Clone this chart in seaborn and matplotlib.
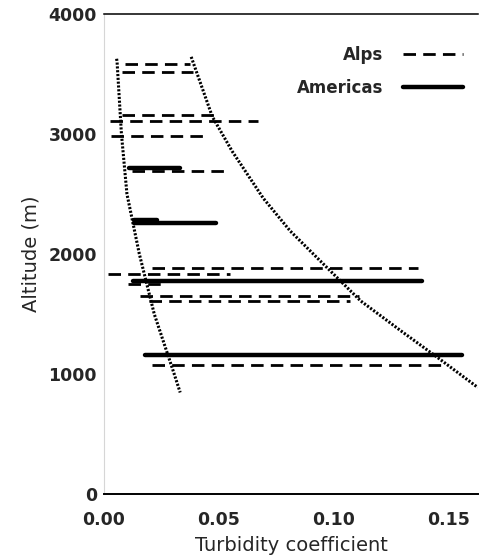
import numpy as np
import pandas as pd
import matplotlib
matplotlib.use("Agg")
import matplotlib.pyplot as plt
from matplotlib.ticker import MultipleLocator
import seaborn as sns

# ---- data ----
alps_alt = [3580, 3520, 3160, 3105, 2985, 2695, 1887, 1830, 1750, 1651, 1610, 1079]
alps_x0 = [0.009, 0.008, 0.008, 0.0026, 0.003, 0.012, 0.021, 0.0017, 0.0105, 0.0157, 0.0195, 0.021]
alps_x1 = [0.0376, 0.039, 0.0507, 0.067, 0.044, 0.054, 0.137, 0.055, 0.027, 0.111, 0.107, 0.150]

amer_alt = [2716, 2280, 2262, 1772, 1162]
amer_x0 = [0.011, 0.013, 0.013, 0.0127, 0.018]
amer_x1 = [0.033, 0.023, 0.049, 0.1387, 0.156]

left_curve_x = [0.0055, 0.0057, 0.0076, 0.0100, 0.0154, 0.0219, 0.0306, 0.0332]
left_curve_alt = [3627, 3600, 3000, 2500, 2000, 1500, 1000, 846]

right_curve_x = [0.0380, 0.0472, 0.0559, 0.0694, 0.0812, 0.0969, 0.1118, 0.1293, 0.1454, 0.1629]
right_curve_alt = [3643, 3145, 2855, 2465, 2191, 1892, 1610, 1361, 1137, 888]

regions = ["Alps", "Americas"]
xticks = [0.00, 0.05, 0.10, 0.15]
yticks = [0, 1000, 2000, 3000, 4000]

# ---- build long table of segments ----
rows = []
seg = 0
for alt, a, b in zip(alps_alt, alps_x0, alps_x1):
    rows += [dict(x=a, alt=alt, region="Alps", seg=seg), dict(x=b, alt=alt, region="Alps", seg=seg)]
    seg += 1
for alt, a, b in zip(amer_alt, amer_x0, amer_x1):
    rows += [dict(x=a, alt=alt, region="Americas", seg=seg), dict(x=b, alt=alt, region="Americas", seg=seg)]
    seg += 1
segs = pd.DataFrame(rows)

left_df = pd.DataFrame(dict(x=left_curve_x, alt=left_curve_alt))
right_df = pd.DataFrame(dict(x=right_curve_x, alt=right_curve_alt))

sns.set_style("white")
plt.rcParams["font.family"] = ["DejaVu Sans"]

W, H = 487, 557
fig = plt.figure(figsize=(W / 100, H / 100), dpi=100)
L, R, T, B = 104, 478, 14, 494
ax = fig.add_axes([L / W, 1 - B / H, (R - L) / W, (B - T) / H])

sns.lineplot(data=segs, x="x", y="alt", units="seg", estimator=None,
             style="region", style_order=regions,
             size="region", size_order=regions, sizes={"Alps": 2.0, "Americas": 3.2},
             dashes={"Alps": (4.5, 2.6), "Americas": ""},
             color="black", ax=ax, sort=False)

for df in (left_df, right_df):
    sns.lineplot(data=df, x="x", y="alt", estimator=None, sort=False,
                 color="black", linewidth=2.2, ax=ax,
                 linestyle=(0, (0.7, 0.55)), dash_capstyle="butt", legend=False)

ax.set_xlim(0, 0.163)
ax.set_ylim(0, 4000)
ax.set_xticks(xticks)
ax.set_xticklabels([f"{v:.2f}" for v in xticks])
ax.xaxis.set_minor_locator(MultipleLocator(0.025))
ax.set_yticks(yticks)
ax.set_yticklabels([str(v) for v in yticks])

ax.tick_params(axis="both", which="both", direction="in", color="black", width=1.3)
ax.tick_params(axis="x", which="major", length=7, pad=12, labelsize=12.5)
ax.tick_params(axis="x", which="minor", length=5)
ax.tick_params(axis="y", which="major", length=6, pad=5, labelsize=12.5)
for lab in ax.get_xticklabels() + ax.get_yticklabels():
    lab.set_fontweight("bold")

ax.spines["top"].set_color("black")
ax.spines["top"].set_linewidth(1.1)
ax.spines["bottom"].set_color("black")
ax.spines["bottom"].set_linewidth(1.4)
ax.spines["right"].set_visible(False)
ax.spines["left"].set_color("#d6d6d6")
ax.spines["left"].set_linewidth(0.8)

ax.set_xlabel("Turbidity coefficient", fontsize=14, labelpad=5)
ax.set_ylabel("Altitude (m)", fontsize=14, labelpad=6)

sns.move_legend(ax, "upper right", bbox_to_anchor=(0.96, 0.933), frameon=False,
                title=None, markerfirst=False, handlelength=3.6, handletextpad=1.2,
                labelspacing=0.88, borderpad=0, borderaxespad=0,
                prop={"size": 12, "weight": "bold"})

fig.savefig("out.png", dpi=100)
